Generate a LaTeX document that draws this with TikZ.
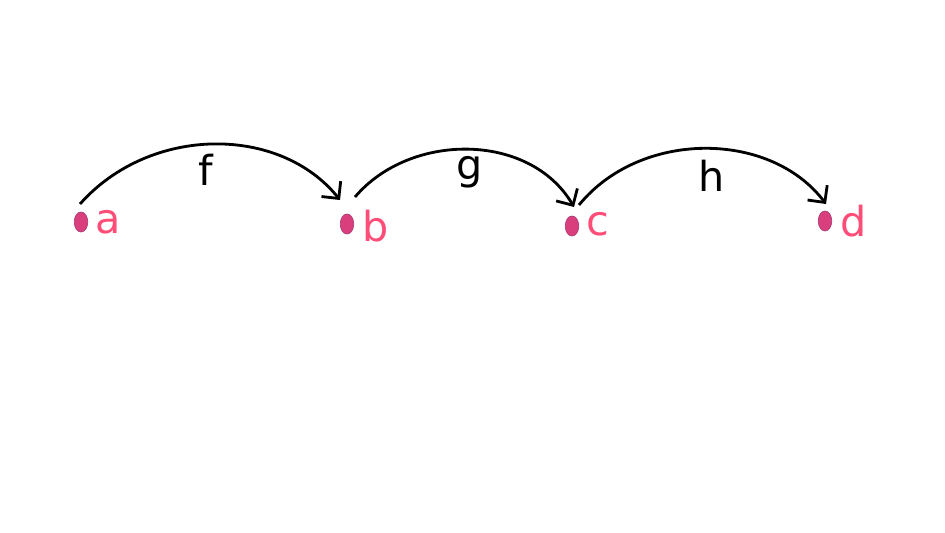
\documentclass[tikz,border=0pt]{standalone}
\usepackage{fontspec}
\setmainfont{DejaVu Sans}
\usetikzlibrary{arrows.meta,shapes.geometric}
\definecolor{dotfill}{HTML}{D93F7C}
\definecolor{dotedge}{HTML}{B0407A}
\definecolor{lblpink}{HTML}{FF4D78}
\begin{document}
\begin{tikzpicture}[x=0.02cm,y=-0.02cm,
  pt/.style={ellipse,draw=dotedge,fill=dotfill,line width=0.4pt,minimum width=0.27cm,minimum height=0.40cm,inner sep=0pt},
  lbl/.style={text=lblpink,font=\fontsize{23.5}{28}\selectfont,anchor=west,inner sep=0pt},
  elbl/.style={font=\fontsize{23.5}{28}\selectfont,inner sep=0pt},
  arr/.style={line width=1.6pt,-{Straight Barb[length=7pt,width=14pt]}}]
\fill[white] (0,0) rectangle (945,532);
\node[pt] (a) at (81,222) {};
\node[pt] (b) at (347,224) {};
\node[pt] (c) at (572,226) {};
\node[pt] (d) at (825,221) {};
\node[lbl] (la) at (95,222) {a};
\node[lbl] (lb) at (362,226) {b};
\node[lbl] (lc) at (586,224) {c};
\node[lbl] (ld) at (840,221) {d};
\coordinate (fs) at (80,204);
\coordinate (fe) at (340,200);
\coordinate (gs) at (355,197);
\coordinate (ge) at (574,207);
\coordinate (hs) at (579,205);
\coordinate (he) at (826,204);
\draw[arr] (fs) .. controls (150,125) and (280,125) .. (fe);
\draw[arr] (gs) .. controls (410,132) and (530,132) .. (ge);
\draw[arr] (hs) .. controls (640,130) and (770,130) .. (he);
\node[elbl] (lf) at (206,170) {f};
\node[elbl] (lg) at (470,172) {g};
\node[elbl] (lh) at (712,176) {h};
\end{tikzpicture}
\end{document}
